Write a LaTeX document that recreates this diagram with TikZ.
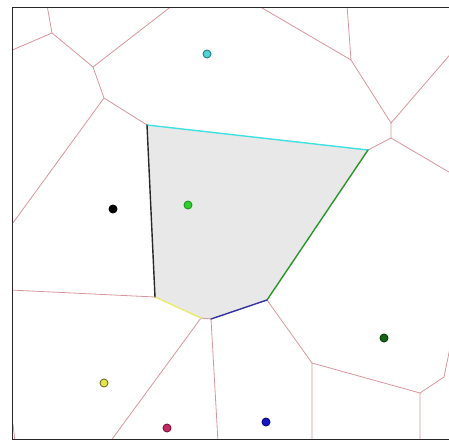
\documentclass[tikz,border=0pt]{standalone}
\begin{document}
\begin{tikzpicture}[x=1pt,y=-1pt,
  vedge/.style={draw={rgb,255:red,214;green,150;blue,156},line width=0.8pt},
  cedge/.style={line width=1.4pt,line cap=round},
  site/.style={circle,inner sep=0pt,minimum size=8pt,line width=0.9pt}]
\useasboundingbox (0,0) rectangle (449,442);
% Voronoi vertices
\coordinate (v1) at (52,33);
\coordinate (v2) at (93,67);
\coordinate (v3) at (104,98);
\coordinate (A) at (147,125);
\coordinate (B) at (368,150);
\coordinate (C) at (267,300);
\coordinate (D1) at (201,318);
\coordinate (D2) at (211,319);
\coordinate (E) at (155,297);
\coordinate (v4) at (351,60);
\coordinate (v5) at (391,123);
\coordinate (v6) at (391,138);
\coordinate (v7) at (312,363);
\coordinate (v8) at (420,393);
\coordinate (v9) at (444,377);
% border ends
\coordinate (t1) at (47,5);
\coordinate (l1) at (10,51);
\coordinate (t2) at (173,5);
\coordinate (l2) at (10,227);
\coordinate (t3) at (257,5);
\coordinate (t4) at (347,5);
\coordinate (r1) at (454,50);
\coordinate (r2) at (454,175);
\coordinate (l3) at (10,290);
\coordinate (b1) at (110,442);
\coordinate (b2) at (218,442);
\coordinate (b3) at (312,442);
\coordinate (b4) at (420,442);
\coordinate (r3) at (451,343);
\coordinate (k1) at (13,424);
\coordinate (k2) at (15,442);
% gray cell
\fill[gray!18] (A) -- (B) -- (C) -- (D2) -- (D1) -- (E) -- cycle;
\begin{scope}
\clip (12.5,7.5) rectangle (449,439.5);
\draw[vedge] (t1) -- (v1) -- (l1);
\draw[vedge] (v1) -- (v2) -- (t2);
\draw[vedge] (v2) -- (v3) -- (A);
\draw[vedge] (v3) -- (l2);
\draw[vedge] (t3) -- (v4) -- (t4);
\draw[vedge] (v4) -- (v5) -- (r1);
\draw[vedge] (v5) -- (v6) -- (B);
\draw[vedge] (v6) -- (r2);
\draw[vedge] (E) -- (l3);
\draw[vedge] (D1) -- (b1);
\draw[vedge] (D1) -- (D2) -- (b2);
\draw[vedge] (C) -- (v7) -- (b3);
\draw[vedge] (v7) -- (v8) -- (b4);
\draw[vedge] (v8) -- (v9) -- (r3);
\draw[vedge] (k1) -- (k2);
\end{scope}
% cell edges
\draw[cedge,draw={rgb,255:red,64;green,224;blue,224}] (A) -- (B);
\draw[cedge,draw={rgb,255:red,40;green,150;blue,40}] (B) -- (C);
\draw[cedge,draw={rgb,255:red,50;green,50;blue,160}] (C) -- (D2);
\draw[cedge,draw={rgb,255:red,235;green,235;blue,110}] (D1) -- (E);
\draw[cedge,draw={rgb,255:red,40;green,40;blue,40}] (E) -- (A);
% frame
\draw[line width=1.3pt,draw={rgb,255:red,40;green,40;blue,40}] (12.5,7.5) rectangle (452,439.5);
% sites
\node[site,fill={rgb,255:red,80;green,210;blue,210},draw={rgb,255:red,30;green,130;blue,140}] (s1) at (207,54) {};
\node[site,fill={rgb,255:red,40;green,210;blue,40},draw={rgb,255:red,30;green,150;blue,30}] (s2) at (188,205) {};
\node[site,fill=black,draw=black] (s3) at (113,209) {};
\node[site,fill={rgb,255:red,230;green,230;blue,70},draw={rgb,255:red,110;green,110;blue,40}] (s4) at (104,383) {};
\node[site,fill={rgb,255:red,200;green,40;blue,100},draw={rgb,255:red,120;green,20;blue,60}] (s5) at (167,428) {};
\node[site,fill={rgb,255:red,20;green,20;blue,210},draw={rgb,255:red,10;green,10;blue,120}] (s6) at (266,422) {};
\node[site,fill={rgb,255:red,20;green,100;blue,20},draw={rgb,255:red,10;green,60;blue,10}] (s7) at (384,338) {};
\end{tikzpicture}
\end{document}
